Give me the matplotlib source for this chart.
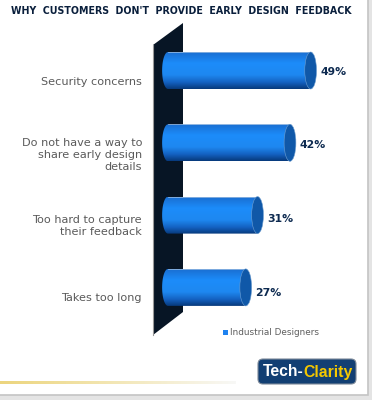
import numpy as np
import matplotlib
matplotlib.use('Agg')
import matplotlib.pyplot as plt
from matplotlib.patches import Polygon, Rectangle, FancyBboxPatch, Ellipse, PathPatch
from matplotlib.path import Path
from matplotlib.colors import LinearSegmentedColormap

categories = ['Security concerns',
              'Do not have a way to\nshare early design\ndetails',
              'Too hard to capture\ntheir feedback',
              'Takes too long']
values = [49, 42, 31, 27]
value_labels = ['49%', '42%', '31%', '27%']
series_name = 'Industrial Designers'
title = "WHY  CUSTOMERS  DON'T  PROVIDE  EARLY  DESIGN  FEEDBACK"

W, H = 372, 400
fig = plt.figure(figsize=(W / 100, H / 100), dpi=100, facecolor='#e4e4e4')

# background layer in pixel coordinates
bg = fig.add_axes([0, 0, 1, 1])
bg.set_xlim(0, W)
bg.set_ylim(H, 0)
bg.axis('off')
bg.add_patch(Rectangle((-2, -2), 370, 397, fc='white', ec='#c4c4c4', lw=1.2))

# the wall behind the bars
bg.add_patch(Polygon([(153, 45), (183, 23), (183, 312), (153, 335)], fc='#071525', ec='none'))
bg.plot([153, 153], [45, 335], color='#9a9a9a', lw=0.8)

# gold line fading out
fade = LinearSegmentedColormap.from_list('fade', [(0, '#ecd57e'), (0.42, '#f2e4ad'), (1, '#f8f8f6')])
bg.imshow(np.linspace(0, 1, 200).reshape(1, -1), cmap=fade, extent=(0, 236, 384.2, 382),
          aspect='auto', zorder=2)
bg.set_xlim(0, W)
bg.set_ylim(H, 0)

bg.text(181.5, 11, title, ha='center', va='center', fontsize=6.85, fontweight='bold', color='#0a1f3c')

# labels, right aligned against the wall
y_px = [82, 155, 226, 298]
for lab, yy in zip(categories, y_px):
    bg.text(142, yy, lab, ha='right', va='center', fontsize=8.1, color='#5a5a5a', linespacing=1.22)

# legend
bg.add_patch(Rectangle((223, 330), 5, 5, fc='#1e82f0', ec='none'))
bg.text(230, 332.5, series_name, ha='left', va='center', fontsize=6.4, color='#5f5f5f')

# logo
bg.add_patch(FancyBboxPatch((261, 362), 92, 19, boxstyle='round,pad=3,rounding_size=5',
                            fc='#123f73', ec='#7d8a99', lw=0.8))
t1 = bg.text(263, 372, 'Tech-', ha='left', va='center', fontsize=11.3, fontweight='bold',
             color='white', family='Liberation Sans')
bg.annotate('Clarity', xy=(1, 0.5), xycoords=t1, ha='left', va='center', fontsize=11.3,
            fontweight='bold', color='#f5c800', family='Liberation Sans')

# bars on a value axis: 2.95 px per percent, zero at x=172, rows 72.3 px apart
ax = fig.add_axes([0, 0, 1, 1], facecolor='none')
xlim = (-172 / 2.95, (W - 172) / 2.95)
ylim = ((H - 70.5) / 72.3, -70.5 / 72.3)
ax.set_xlim(xlim)
ax.set_ylim(ylim)
ax.axis('off')

cap = 2.0
h = 37 / 72.3
grad = LinearSegmentedColormap.from_list('barfill', [(0, '#1a6fd2'), (0.3, '#1c8cfa'), (0.62, '#1e88f0'),
                                                     (0.82, '#1462c2'), (1, '#073a7c')])
ypos = np.arange(len(values))
label_shift = [0.02, 0.035, 0.06, 0.08]
bars = ax.barh(ypos, values, height=h, left=0, color='none')
for b, v, y, lab, s in zip(bars, values, ypos, value_labels, label_shift):
    end = v - cap
    t = np.linspace(np.pi / 2, 3 * np.pi / 2, 40)
    left_x = -1.35 + cap * np.cos(t)
    left_y = y - h / 2 * np.sin(t)
    verts = np.column_stack([np.r_[left_x, end, end], np.r_[left_y, y + h / 2, y - h / 2]])
    clip = PathPatch(Path(np.vstack([verts, verts[0]])), fc='none', ec='none',
                     transform=ax.transData, zorder=1)
    ax.add_patch(clip)
    im = ax.imshow(np.linspace(0, 1, 100).reshape(-1, 1), cmap=grad, aspect='auto',
                   extent=(-3.4, end, y + h / 2, y - h / 2), zorder=2)
    im.set_clip_path(clip)
    ax.plot([-1.35, end], [y - h / 2, y - h / 2], color='#a8c4e4', lw=0.5, zorder=3)
    ax.add_patch(Ellipse((end, y), 2 * cap, h, fc='#1058a8', ec='#6f9fd0', lw=0.4, zorder=4))
    ax.text(v + 1.2, y + s, lab, ha='left', va='center', fontsize=7.8, fontweight='bold', color='#0d2a50')
ax.set_xlim(xlim)
ax.set_ylim(ylim)

fig.savefig('out.png', dpi=100, facecolor=fig.get_facecolor())
